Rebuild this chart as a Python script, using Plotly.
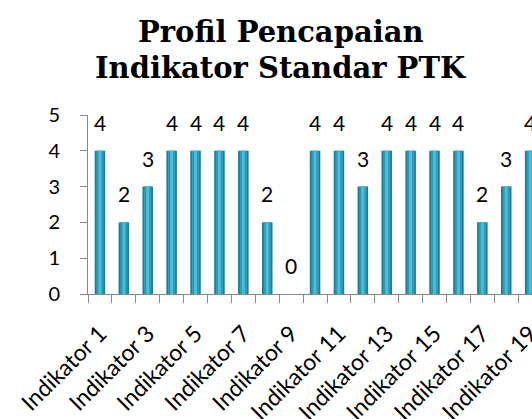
import plotly.graph_objects as go

categories = [f"Indikator {i}" for i in range(1, 20)]
values = [4, 2, 3, 4, 4, 4, 4, 2, 0, 4, 4, 3, 4, 4, 4, 4, 2, 3, 4]
y_ticks = [0, 1, 2, 3, 4, 5]
title_lines = ["Profil Pencapaian", "Indikator Standar PTK"]

xpos = list(range(1, len(categories) + 1))

W, H = 532, 419
L, T = 88, 115
PW, PH = W - L, 179

def py(ypx):
    return ((T + PH) - ypx) / PH

fig = go.Figure()
layers = [(0.44, "#1F7E97"), (0.30, "#2C9CB8"), (0.12, "#4DBCD6")]
for w, c in layers:
    fig.add_trace(go.Bar(x=xpos, y=values, width=w, marker=dict(color=c, line=dict(width=0)),
                         hoverinfo="skip", showlegend=False, cliponaxis=True))

for xp, v in zip(xpos, values):
    fig.add_annotation(x=xp, y=v, text=str(v), showarrow=False, yanchor="bottom",
                       yshift=14, font=dict(family="Lato, sans-serif", size=21, color="#000"))

for line, ypx in zip(title_lines, [32.5, 67.5]):
    fig.add_annotation(xref="paper", yref="paper", x=(281 - L) / PW, y=py(ypx),
                       xanchor="center", yanchor="middle", showarrow=False,
                       text=f"<b>{line}</b>",
                       font=dict(family="DejaVu Serif, serif", size=29, color="#000"))

fig.update_layout(
    width=W, height=H,
    margin=dict(l=L, r=0, t=T, b=H - T - PH, autoexpand=False),
    paper_bgcolor="white", plot_bgcolor="white",
    barmode="overlay",
    xaxis=dict(range=[0.5, 0.5 + PW / 23.9], showline=True, linecolor="#888", linewidth=1,
               showgrid=False, zeroline=False, automargin=False,
               tickmode="array", tickvals=xpos[::2], ticktext=categories[::2],
               ticks="", tickangle=-45, ticklabelstandoff=16, ticklabeloverflow="allow",
               tickfont=dict(family="Lato, sans-serif", size=23, color="#000"),
               minor=dict(tickmode="array", tickvals=[i + 0.5 for i in range(0, 20)],
                          ticks="outside", ticklen=8, tickcolor="#888", showgrid=False)),
    yaxis=dict(range=[0, 5], tickmode="array", tickvals=y_ticks, showline=True,
               linecolor="#888", linewidth=1, showgrid=False, zeroline=False, automargin=False,
               ticks="outside", ticklen=7, tickcolor="#888", ticklabelstandoff=16,
               tickfont=dict(family="Lato, sans-serif", size=20, color="#000")),
)

fig.write_html("out.html", config={"displayModeBar": False},
               post_script="document.body.style.margin='0';document.body.style.overflow='hidden';")
